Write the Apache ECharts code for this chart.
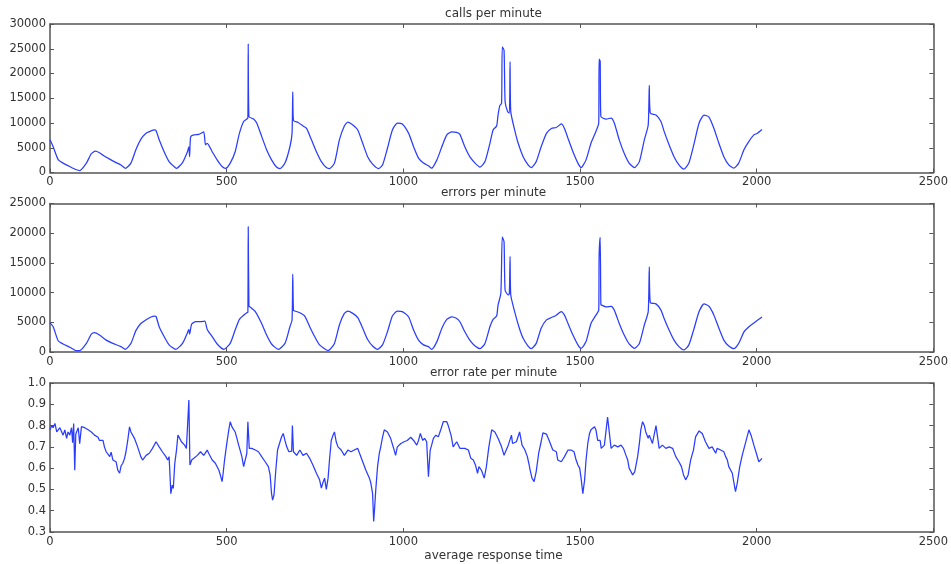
<!DOCTYPE html>
<html>
<head>
<meta charset="utf-8">
<script src="https://cdn.jsdelivr.net/npm/echarts@6/dist/echarts.min.js"></script>
<style>html,body{margin:0;padding:0;background:#fff}#c{width:951px;height:564px}</style>
</head>
<body>
<div id="c"></div>
<script>
// ---- data ----
var xTicks = [0, 500, 1000, 1500, 2000, 2500];
var titles = ['calls per minute', 'errors per minute', 'error rate per minute'];
var bottomLabel = 'average response time';

var callsX = [0,9,23,37,56,75,84,103,117,128,140,150,169,187,201,213,229,243,257,271,286,295,300,309,323,337,351,358,375,389,393,395,398,407,421,435,440,445,459,473,487,497,510,524,536,548,557,560,561,563,576,585,599,613,627,641,651,665,679,685,687,689,702,716,726,740,754,768,782,791,805,819,833,843,857,871,885,899,913,930,941,955,969,983,997,1015,1029,1043,1057,1071,1080,1095,1109,1123,1137,1151,1160,1174,1188,1203,1217,1231,1245,1254,1264,1268,1273,1278,1280,1285,1288,1295,1300,1302,1304,1315,1325,1339,1353,1362,1376,1390,1405,1419,1433,1447,1456,1466,1480,1494,1503,1517,1531,1545,1553,1554,1557,1559,1574,1588,1597,1611,1625,1639,1654,1668,1682,1693,1696,1699,1715,1729,1738,1752,1766,1780,1794,1808,1823,1837,1851,1865,1879,1893,1907,1921,1935,1949,1964,1978,1992,2001,2015];
var callsY = [6600,5200,2600,1900,1200,550,400,1900,3800,4300,4000,3500,2700,2000,1500,850,1900,4600,6700,7900,8400,8600,8500,6600,4200,2200,1200,850,2000,4200,5200,3200,7200,7600,7700,8200,5600,5900,4200,2550,1200,850,1900,4200,7900,10300,10800,11000,26000,11300,10800,10000,7300,4600,2550,1100,800,1900,5200,7900,16300,10500,10100,9400,8900,6600,4200,2200,1000,800,1900,6600,9400,10200,9600,8600,5900,3200,1700,800,1500,4900,8600,10000,9800,7900,5200,2900,1900,1350,870,2550,5200,7600,8200,8100,7700,5200,3200,1900,1100,2200,5900,8600,9400,11600,13500,14000,25400,24700,14300,12300,12000,22400,12300,8600,5900,3200,1550,1000,2200,5200,7900,8900,9100,9800,8900,6900,4200,1900,1000,2550,5900,8300,10000,22900,22500,11300,10800,11000,10000,6600,3900,1900,1000,2200,6600,9600,17600,12000,11600,10300,8300,5600,3200,1550,670,1900,5900,10000,11600,11200,8900,5900,3200,1550,870,1900,4600,6300,7600,7900,8700];

var errX = [0,9,23,37,56,75,84,103,117,126,140,159,178,201,213,229,243,257,271,286,295,300,309,323,337,356,375,389,393,395,401,412,426,438,445,459,473,492,510,524,536,548,557,560,561,563,566,581,599,613,627,646,665,679,685,687,689,693,707,721,735,749,763,787,805,819,833,843,857,871,885,899,913,927,941,955,969,983,997,1015,1029,1043,1057,1071,1080,1095,1109,1123,1137,1151,1160,1174,1188,1203,1217,1231,1245,1254,1264,1268,1276,1280,1285,1288,1297,1300,1302,1304,1315,1327,1339,1353,1362,1376,1390,1405,1419,1433,1447,1456,1466,1480,1494,1503,1517,1531,1545,1553,1554,1557,1559,1561,1574,1588,1597,1611,1625,1639,1654,1668,1682,1693,1696,1699,1715,1729,1738,1752,1766,1780,1794,1808,1823,1837,1851,1865,1879,1893,1907,1921,1935,1949,1964,1978,1992,2006,2015];
var errY = [4900,4260,1900,1350,800,220,220,1450,3000,3250,2850,2000,1450,900,450,1450,3600,4800,5400,5900,6050,6000,4260,2600,1200,450,1450,3250,3800,3000,4700,5100,5100,5200,3800,2600,1350,450,1450,3700,5500,6200,6600,6700,21100,7700,7600,6800,4800,2850,1350,450,1450,4260,5400,13100,7000,6900,6600,6050,4260,2600,1200,220,1450,4550,6500,6900,6500,5800,4000,2100,1000,450,1200,3400,6050,6900,6800,5900,3700,2000,1200,900,450,1750,4000,5500,5900,5650,5100,3400,2000,1000,560,1450,4260,5500,6050,7900,9900,19400,18550,10400,9600,9800,16100,9600,6800,4260,2300,1000,560,1450,4000,5400,5800,6200,6800,6200,4800,2850,1200,620,1750,4800,6200,7050,16000,19300,8000,7900,7600,7700,7050,4800,2850,1350,620,1450,4550,6800,14350,8300,8100,7050,5650,3700,2000,900,340,1200,4000,6800,8100,7700,6200,4000,2000,1000,560,1450,3400,4260,4900,5500,5900];

var rateX = [0,5,9,14,19,28,37,42,47,51,56,61,64,67,70,73,80,84,89,98,108,117,126,136,140,150,154,159,169,173,178,187,192,197,201,206,211,215,220,225,229,239,248,257,262,272,281,290,300,304,309,318,328,333,337,339,342,346,349,353,358,362,367,372,376,381,386,390,393,396,401,407,417,426,435,445,449,459,468,478,482,487,490,494,499,506,510,515,524,529,534,538,543,548,553,557,560,564,571,581,590,599,609,618,623,627,630,634,639,644,651,655,660,665,670,676,684,686,689,698,707,716,726,735,744,754,763,768,772,777,782,787,791,796,801,805,810,815,824,833,843,852,861,871,876,885,894,904,908,913,916,919,922,927,932,936,941,946,951,955,964,974,978,983,993,1002,1011,1021,1029,1038,1043,1048,1052,1055,1060,1066,1071,1076,1080,1085,1092,1099,1107,1113,1123,1127,1135,1141,1151,1160,1165,1174,1184,1191,1198,1204,1210,1214,1221,1229,1235,1242,1250,1259,1268,1278,1285,1289,1297,1306,1309,1313,1320,1329,1336,1344,1351,1355,1359,1364,1370,1376,1383,1390,1395,1405,1414,1423,1433,1437,1447,1456,1466,1475,1483,1489,1494,1499,1503,1508,1513,1517,1522,1527,1531,1541,1545,1550,1557,1560,1569,1578,1588,1597,1607,1616,1623,1630,1635,1639,1644,1649,1655,1663,1668,1672,1677,1682,1686,1693,1696,1705,1715,1724,1733,1743,1752,1762,1771,1780,1787,1793,1799,1806,1813,1821,1827,1837,1846,1855,1865,1874,1884,1888,1898,1907,1912,1917,1921,1926,1931,1935,1940,1945,1952,1959,1968,1978,1984,1992,1999,2006,2015];
var rateY = [0.78,0.80,0.79,0.81,0.77,0.79,0.755,0.78,0.74,0.77,0.755,0.79,0.72,0.81,0.59,0.76,0.79,0.715,0.795,0.79,0.78,0.77,0.755,0.745,0.73,0.73,0.70,0.677,0.654,0.675,0.638,0.63,0.59,0.576,0.61,0.623,0.646,0.677,0.73,0.794,0.77,0.74,0.70,0.654,0.638,0.66,0.67,0.693,0.724,0.716,0.70,0.677,0.654,0.638,0.654,0.59,0.48,0.52,0.505,0.62,0.685,0.755,0.74,0.724,0.73,0.708,0.693,0.685,0.92,0.615,0.638,0.646,0.66,0.677,0.66,0.685,0.67,0.638,0.623,0.59,0.568,0.537,0.576,0.638,0.70,0.78,0.818,0.794,0.77,0.74,0.708,0.685,0.654,0.607,0.60,0.67,0.818,0.693,0.693,0.685,0.677,0.654,0.63,0.607,0.568,0.48,0.45,0.475,0.59,0.685,0.724,0.745,0.763,0.73,0.70,0.677,0.68,0.80,0.677,0.66,0.685,0.66,0.67,0.646,0.615,0.576,0.545,0.506,0.53,0.553,0.50,0.553,0.638,0.73,0.755,0.77,0.724,0.70,0.685,0.66,0.685,0.677,0.685,0.693,0.67,0.63,0.59,0.553,0.53,0.48,0.35,0.42,0.50,0.607,0.67,0.70,0.745,0.78,0.786,0.77,0.74,0.685,0.66,0.70,0.716,0.724,0.73,0.745,0.73,0.708,0.73,0.763,0.77,0.73,0.74,0.724,0.56,0.685,0.708,0.74,0.755,0.747,0.786,0.818,0.818,0.80,0.755,0.70,0.724,0.693,0.70,0.693,0.685,0.646,0.638,0.615,0.576,0.607,0.59,0.553,0.607,0.70,0.78,0.77,0.74,0.70,0.66,0.677,0.708,0.755,0.716,0.724,0.724,0.77,0.708,0.685,0.654,0.623,0.59,0.553,0.537,0.584,0.67,0.724,0.766,0.76,0.724,0.685,0.677,0.638,0.63,0.654,0.685,0.685,0.677,0.638,0.615,0.60,0.553,0.48,0.545,0.638,0.716,0.763,0.78,0.794,0.78,0.73,0.73,0.693,0.708,0.84,0.693,0.708,0.70,0.708,0.693,0.66,0.638,0.60,0.607,0.568,0.584,0.654,0.716,0.78,0.818,0.80,0.77,0.74,0.755,0.716,0.80,0.693,0.708,0.693,0.70,0.693,0.654,0.63,0.607,0.568,0.545,0.568,0.638,0.685,0.747,0.775,0.763,0.724,0.693,0.70,0.67,0.693,0.685,0.677,0.654,0.638,0.607,0.60,0.576,0.537,0.49,0.53,0.607,0.66,0.716,0.78,0.755,0.708,0.67,0.63,0.646,0.654,0.677,0.693];

function pairs(xs, ys) { var out = []; for (var i = 0; i < xs.length; i++) out.push([xs[i], ys[i]]); return out; }

var chart = echarts.init(document.getElementById('c'), null, {renderer: 'canvas'});
var font = 'DejaVu Sans';
var axisCol = '#555';
var txtCol = '#333';
var grids = [
  {left: 50, right: 14, top: 24, height: 148.5},
  {left: 50, right: 14, top: 203.5, height: 148.5},
  {left: 50, right: 14, top: 383, height: 149}
];
var yRanges = [[0, 30000, 5000], [0, 25000, 5000], [0.3, 1.0, 0.1]];
var seriesData = [pairs(callsX, callsY), pairs(errX, errY), pairs(rateX, rateY)];
var smoothing = [0.2, 0.2, 0];

var xAxes = [], yAxes = [], series = [];
for (var g = 0; g < 3; g++) {
  var common = {
    type: 'value', gridIndex: g, min: xTicks[0], max: xTicks[xTicks.length - 1], interval: 500,
    axisLine: {show: true, onZero: false, lineStyle: {color: axisCol, width: 1.5}},
    axisTick: {show: true, inside: true, length: 4, lineStyle: {color: axisCol}},
    splitLine: {show: false}
  };
  xAxes.push(Object.assign({}, common, {position: 'bottom',
    axisLabel: {show: true, margin: 4, color: txtCol, fontFamily: font, fontSize: 11.5,
      formatter: function (v) { return String(v); }}}));
  xAxes.push(Object.assign({}, common, {position: 'top', axisLabel: {show: false}}));
  var r = yRanges[g];
  var isRate = g === 2;
  var yc = {
    type: 'value', gridIndex: g, min: r[0], max: r[1], interval: r[2],
    axisLine: {show: true, onZero: false, lineStyle: {color: axisCol, width: 1.5}},
    axisTick: {show: true, inside: true, length: 4, lineStyle: {color: axisCol}},
    splitLine: {show: false}
  };
  yAxes.push(Object.assign({}, yc, {position: 'left',
    axisLabel: {show: true, margin: 4, color: txtCol, fontFamily: font, fontSize: 11.5,
      formatter: isRate ? function (v) { return v.toFixed(1); } : function (v) { return String(v); }}}));
  yAxes.push(Object.assign({}, yc, {position: 'right', axisLabel: {show: false}}));
  series.push({
    type: 'line', xAxisIndex: 2 * g, yAxisIndex: 2 * g, data: seriesData[g],
    showSymbol: false, symbol: 'none', animation: false, smooth: smoothing[g],
    lineStyle: {color: '#2a3cff', width: 1.25}
  });
}

var textY = [14, 193, 373, 556];
var labels = titles.concat([bottomLabel]);
var graphics = labels.map(function (t, i) {
  return {type: 'text', x: 493.5, y: textY[i],
    style: {text: t, fill: txtCol, font: '12px "DejaVu Sans"', align: 'center', verticalAlign: 'middle',
      textAlign: 'center', textVerticalAlign: 'middle'}};
});

chart.setOption({
  animation: false,
  backgroundColor: '#fff',
  grid: grids,
  xAxis: xAxes,
  yAxis: yAxes,
  series: series,
  graphic: graphics
});
</script>
</body>
</html>
